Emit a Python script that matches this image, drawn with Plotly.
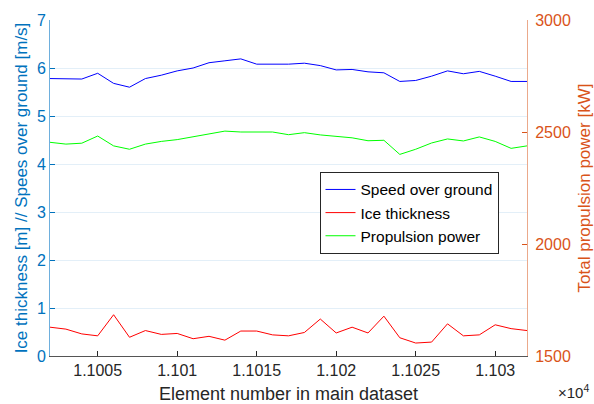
import plotly.graph_objects as go

# Element numbers in the main dataset
element = list(range(11002, 11033))

# Speed over ground [m/s]
speed = [5.78, 5.77, 5.77, 5.89, 5.68, 5.60, 5.78, 5.85, 5.94, 6.00, 6.11, 6.15,
         6.19, 6.08, 6.08, 6.08, 6.10, 6.05, 5.96, 5.97, 5.92, 5.90, 5.72, 5.74,
         5.83, 5.94, 5.88, 5.93, 5.83, 5.72, 5.72]

# Ice thickness [m]
ice = [0.60, 0.56, 0.46, 0.42, 0.86, 0.39, 0.53, 0.45, 0.47, 0.36, 0.41, 0.33,
       0.52, 0.52, 0.44, 0.42, 0.49, 0.77, 0.48, 0.60, 0.48, 0.83, 0.38, 0.27,
       0.29, 0.67, 0.42, 0.44, 0.65, 0.57, 0.53]

# Total propulsion power [kW]
power = [2454, 2446, 2450, 2482, 2438, 2423, 2446, 2458, 2466, 2479, 2491, 2504,
         2500, 2500, 2500, 2488, 2497, 2487, 2481, 2474, 2461, 2463, 2400, 2423,
         2451, 2469, 2460, 2478, 2458, 2427, 2438]

xtick_vals = [11005, 11010, 11015, 11020, 11025, 11030]
xtick_text = ["1.1005", "1.101", "1.1015", "1.102", "1.1025", "1.103"]

BLUE_AX = "#0072BD"
ORANGE_AX = "#D95319"
DARK = "#262626"
FONT = "Liberation Sans, Arial, sans-serif"

fig = go.Figure()
fig.add_trace(go.Scatter(x=element, y=speed, mode="lines", name="Speed over ground",
                         line=dict(color="#0000FF", width=1)))
fig.add_trace(go.Scatter(x=element, y=ice, mode="lines", name="Ice thickness",
                         line=dict(color="#FF0000", width=1)))
fig.add_trace(go.Scatter(x=element, y=power, mode="lines", name="Propulsion power",
                         line=dict(color="#00FF00", width=1), yaxis="y2"))

fig.update_layout(
    width=594, height=404,
    margin=dict(l=50, r=67, t=20, b=48, autoexpand=False),
    paper_bgcolor="white", plot_bgcolor="white",
    font=dict(family=FONT, size=16, color=DARK),
    xaxis=dict(
        range=[11002, 11032], tickvals=xtick_vals, ticktext=xtick_text,
        ticks="inside", ticklen=5, tickcolor=DARK, showgrid=False, automargin=False,
        showline=True, linecolor="#555555", linewidth=1, zeroline=False,
        tickfont=dict(size=16, color=DARK),
        title=dict(text="Element number in main dataset", font=dict(size=18, color=DARK),
                   standoff=10),
    ),
    yaxis=dict(
        range=[0, 7], dtick=1, ticks="inside", ticklen=5, tickcolor=BLUE_AX, automargin=False,
        showline=True, linecolor="#6EAFDD", linewidth=1, zeroline=False,
        showgrid=True, gridcolor="#E3EFF8", gridwidth=1,
        tickfont=dict(size=16, color=BLUE_AX),
        title=dict(text="Ice thickness [m] // Spees over ground [m/s]",
                   font=dict(size=17, color=BLUE_AX), standoff=4),
    ),
    yaxis2=dict(
        range=[1500, 3000], tickvals=[1500, 2000, 2500, 3000], overlaying="y", side="right",
        ticks="inside", ticklen=5, tickcolor=ORANGE_AX, ticklabelstandoff=4, automargin=False,
        showline=True, linecolor="#EBA98B", linewidth=1, zeroline=False, showgrid=False,
        tickfont=dict(size=16, color=ORANGE_AX),
        title=dict(text="Total propulsion power [kW]", font=dict(size=17, color=ORANGE_AX),
                   standoff=10),
    ),
    legend=dict(
        x=0.565, y=0.548, xanchor="left", yanchor="top",
        bgcolor="white", bordercolor=DARK, borderwidth=1,
        font=dict(size=15.5, color="black"), tracegroupgap=0,
    ),
    showlegend=True,
)

fig.add_annotation(text="×10<sup>4</sup>", xref="paper", yref="paper", x=1.132, y=-0.138,
                   xanchor="right", yanchor="bottom", showarrow=False, borderpad=0,
                   font=dict(size=15, color=DARK))

fig.write_html("out.html")
